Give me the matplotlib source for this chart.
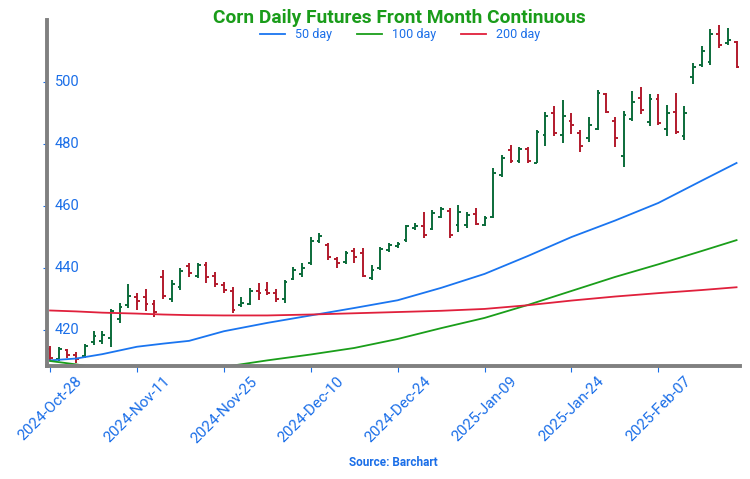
import matplotlib
matplotlib.use("Agg")
import matplotlib.pyplot as plt
import numpy as np

plt.rcParams['font.family'] = ['Roboto', 'DejaVu Sans']

# daily OHLC, one row per trading day starting 2024-Oct-28
opens = [414.0, 410.5, 413.5, 412.0, 411.5, 416.0, 416.5, 417.5, 423.5, 428.0,
         430.5, 430.5, 428.5, 437.0, 430.0, 434.0, 440.5, 437.5, 441.0, 437.5,
         434.5, 432.5, 428.2, 428.5, 432.5, 433.0, 432.0, 430.0, 436.5, 438.0,
         441.5, 448.7, 447.5, 443.0, 441.8, 445.5, 445.0, 436.8, 440.0, 445.8,
         447.0, 449.0, 453.0, 453.5, 452.5, 456.5, 458.5, 454.0, 454.0, 457.5,
         454.0, 456.5, 470.0, 478.0, 474.5, 478.5, 474.0, 483.0, 490.0, 483.0,
         487.5, 483.5, 482.0, 485.0, 496.0, 487.5, 476.0, 488.0, 495.0, 487.0,
         494.5, 485.0, 490.5, 482.5, 501.5, 505.5, 506.5, 515.5, 512.5, 513.0]
highs = [414.8, 414.5, 414.0, 412.8, 415.6, 419.8, 419.8, 426.8, 428.7, 434.8,
         432.0, 433.2, 429.7, 439.3, 436.1, 440.0, 441.6, 441.6, 441.9, 438.7,
         435.5, 433.9, 430.7, 433.5, 435.2, 435.5, 433.2, 436.1, 440.4, 441.6,
         450.1, 451.3, 448.0, 443.7, 445.6, 446.5, 446.5, 441.0, 446.9, 448.0,
         448.5, 453.9, 454.5, 458.2, 458.7, 459.8, 459.4, 460.3, 458.2, 459.4,
         456.8, 472.2, 476.5, 479.7, 479.1, 479.1, 484.5, 490.2, 492.2, 494.3,
         489.9, 484.5, 488.8, 497.3, 496.6, 488.7, 490.8, 497.0, 498.3, 496.2,
         496.2, 492.6, 496.5, 492.2, 506.1, 511.8, 517.2, 518.5, 517.4, 513.3]
lows = [410.3, 410.0, 411.0, 409.4, 411.0, 415.2, 415.5, 414.5, 422.3, 427.1,
        426.5, 426.1, 424.2, 429.9, 429.0, 432.9, 437.1, 436.8, 435.2, 433.9,
        431.9, 425.5, 427.5, 428.0, 429.7, 431.3, 429.0, 428.7, 436.1, 437.1,
        441.0, 448.0, 442.6, 440.0, 441.3, 441.6, 437.2, 436.1, 439.4, 445.3,
        446.4, 448.5, 452.3, 449.6, 452.3, 456.0, 449.7, 451.7, 452.8, 453.9,
        453.5, 456.0, 469.5, 473.8, 473.8, 473.8, 473.8, 479.5, 482.5, 480.5,
        483.4, 477.5, 480.8, 484.5, 490.0, 479.2, 472.7, 487.3, 489.6, 485.7,
        486.2, 482.5, 483.2, 481.4, 499.4, 505.0, 505.6, 511.0, 512.0, 504.5]
closes = [411.0, 413.8, 411.8, 410.5, 415.0, 418.0, 418.3, 426.0, 427.5, 431.0,
          429.5, 428.5, 425.8, 431.0, 435.0, 439.0, 438.5, 441.0, 437.0, 435.0,
          432.8, 426.5, 428.8, 432.5, 431.8, 432.0, 430.0, 435.5, 439.5, 440.0,
          448.8, 450.2, 443.5, 441.5, 445.0, 443.5, 437.5, 439.5, 446.0, 447.5,
          447.8, 453.5, 453.5, 450.5, 457.8, 459.0, 450.5, 458.0, 457.0, 454.3,
          456.0, 470.6, 475.5, 474.5, 478.5, 474.5, 483.8, 489.2, 483.5, 489.0,
          486.0, 479.5, 486.0, 496.5, 490.5, 482.0, 489.5, 493.5, 491.0, 494.5,
          486.8, 490.0, 484.0, 490.0, 505.0, 510.0, 515.5, 512.0, 513.5, 505.0]

ma_idx = [0, 3, 6, 10, 13, 16, 20, 25, 30, 35, 40, 45, 50, 55, 60, 65, 70, 75, 79]
ma50 = [410.2, 410.8, 412.2, 414.6, 415.6, 416.5, 419.6, 422.3, 424.7, 427.1,
        429.6, 433.6, 438.1, 443.9, 450.0, 455.3, 461.0, 468.2, 473.9]
ma100 = [410.0, 408.9, 407.6, 406.6, 406.4, 406.8, 408.1, 410.2, 412.1, 414.2,
         417.1, 420.6, 423.9, 428.1, 432.6, 437.1, 441.2, 445.5, 449.0]
ma200 = [426.3, 426.0, 425.6, 425.3, 425.0, 424.8, 424.7, 424.7, 425.0, 425.4,
         425.8, 426.2, 426.8, 428.0, 429.5, 430.8, 431.9, 432.9, 433.8]

tick_pos = [0, 10, 20, 30, 40, 50, 60, 70]
tick_labels = ['2024-Oct-28', '2024-Nov-11', '2024-Nov-25', '2024-Dec-10',
               '2024-Dec-24', '2025-Jan-09', '2025-Jan-24', '2025-Feb-07']
y_ticks = [420, 440, 460, 480, 500]

blue_txt = '#1a6ee8'
up_col = '#0b6b3a'
dn_col = '#b21a2c'

fig = plt.figure(figsize=(7.5, 4.79), dpi=100)
ax = fig.add_axes([0.0627, 0.236, 0.924, 0.722])

x = np.arange(len(opens))
cols = [up_col if c >= o else dn_col for o, c in zip(opens, closes)]
w = 0.32
ax.vlines(x, lows, highs, colors=cols, lw=1.4)
ax.hlines(opens, x - w, x, colors=cols, lw=1.4)
ax.hlines(closes, x, x + w, colors=cols, lw=1.4)

ax.plot(ma_idx, ma50, color='#1a75f0', lw=1.3, label='50 day')
ax.plot(ma_idx, ma100, color='#1a9e1a', lw=1.3, label='100 day')
ax.plot(ma_idx, ma200, color='#e0203c', lw=1.3, label='200 day')

ax.set_xlim(-0.35, 79.4)
ax.set_ylim(408.4, 520)
ax.set_xticks(tick_pos)
ax.set_xticklabels(tick_labels, rotation=45, ha='center', fontsize=11, color=blue_txt)
ax.set_yticks(y_ticks)
ax.set_yticklabels([])
# y labels sit inside the plot, just right of the spine
for v in y_ticks:
    ax.text(0.0115, v, str(v), transform=ax.get_yaxis_transform(), ha='left', va='center',
            fontsize=10.5, color=blue_txt)

for s in ['top', 'right']:
    ax.spines[s].set_visible(False)
for s in ['left', 'bottom']:
    ax.spines[s].set_color('#808080')
    ax.spines[s].set_linewidth(2.8)

ax.tick_params(axis='x', length=4, color=blue_txt, pad=2)
ax.tick_params(axis='y', length=3, color=blue_txt)

fig.text(0.533, 0.962, 'Corn Daily Futures Front Month Continuous', ha='center', va='center',
         fontsize=13.8, fontweight='bold', color='#1a9c1a')
leg = fig.legend(loc='center', bbox_to_anchor=(0.533, 0.927), ncol=3, frameon=False,
                 fontsize=9, handlelength=2.0, columnspacing=2.0, handletextpad=0.8)
for t in leg.get_texts():
    t.set_color(blue_txt)

fig.text(0.524, 0.035, 'Source: Barchart', ha='center', va='center', fontsize=8.5,
         fontweight='bold', color=blue_txt)

fig.savefig('out.png', dpi=100)
